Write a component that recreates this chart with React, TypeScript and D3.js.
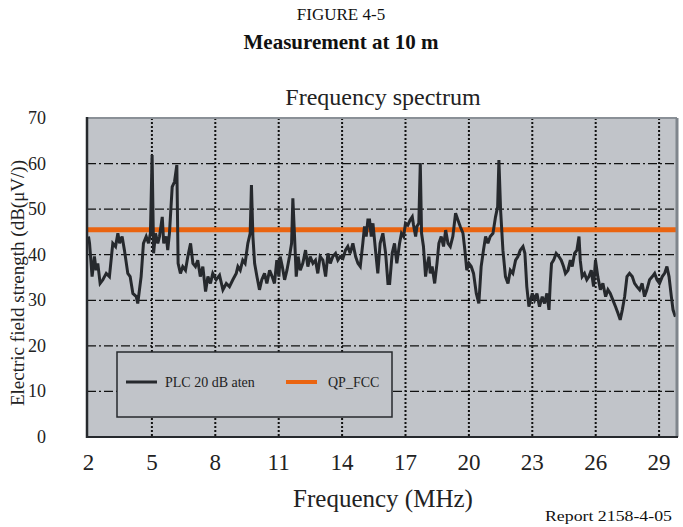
import React from "react";
import * as d3 from "d3";

const freqs: number[] = [
  2.0, 2.05, 2.17, 2.28, 2.36, 2.44, 2.55, 2.68, 2.84, 2.99, 3.15, 3.28, 3.39, 3.47, 3.59, 3.7, 3.86, 3.97, 4.1, 4.26,
  4.33, 4.49, 4.6, 4.73, 4.84, 4.93, 5.01, 5.08, 5.17, 5.28, 5.36, 5.49, 5.56, 5.68, 5.75, 5.83, 5.96, 6.07, 6.18, 6.24,
  6.35, 6.46, 6.59, 6.7, 6.83, 6.94, 7.06, 7.17, 7.29, 7.41, 7.54, 7.65, 7.77, 7.88, 8.04, 8.2, 8.36, 8.52, 8.67, 8.83,
  8.99, 9.07, 9.18, 9.3, 9.41, 9.54, 9.65, 9.71, 9.78, 9.86, 9.97, 10.09, 10.2, 10.33, 10.44, 10.57, 10.69, 10.8, 10.91, 11.01,
  11.07, 11.17, 11.28, 11.39, 11.51, 11.61, 11.67, 11.75, 11.83, 11.92, 12.02, 12.14, 12.27, 12.38, 12.49, 12.62, 12.74, 12.85, 12.96, 13.09,
  13.22, 13.33, 13.44, 13.56, 13.69, 13.8, 13.91, 14.04, 14.16, 14.27, 14.38, 14.51, 14.64, 14.75, 14.86, 14.98, 15.06, 15.14, 15.22, 15.3,
  15.38, 15.46, 15.58, 15.69, 15.8, 15.93, 16.06, 16.17, 16.25, 16.37, 16.48, 16.59, 16.72, 16.81, 16.91, 17.0, 17.11, 17.22, 17.32, 17.38,
  17.48, 17.54, 17.63, 17.7, 17.76, 17.85, 17.95, 18.01, 18.11, 18.17, 18.26, 18.38, 18.49, 18.58, 18.69, 18.8, 18.9, 19.01, 19.12, 19.24,
  19.37, 19.48, 19.59, 19.72, 19.81, 19.9, 20.0, 20.11, 20.22, 20.35, 20.47, 20.58, 20.69, 20.79, 20.9, 21.01, 21.14, 21.26, 21.36, 21.42,
  21.5, 21.61, 21.73, 21.85, 21.96, 22.08, 22.21, 22.32, 22.43, 22.56, 22.65, 22.74, 22.84, 23.0, 23.11, 23.22, 23.34, 23.47, 23.58, 23.69,
  23.79, 23.85, 23.91, 24.01, 24.13, 24.26, 24.37, 24.48, 24.57, 24.69, 24.8, 24.89, 25.0, 25.11, 25.21, 25.27, 25.36, 25.47, 25.58, 25.68,
  25.79, 25.9, 25.99, 26.1, 26.22, 26.34, 26.47, 26.58, 26.69, 26.81, 26.94, 27.05, 27.16, 27.26, 27.37, 27.48, 27.6, 27.73, 27.84, 27.95,
  28.08, 28.2, 28.31, 28.42, 28.55, 28.68, 28.79, 28.9, 29.02, 29.15, 29.26, 29.37, 29.47, 29.58, 29.66, 29.77,
];

const plcValues: number[] = [
  44.0, 42.5, 35.2, 39.6, 36.6, 38.1, 33.7, 34.5, 35.9, 35.2, 42.5, 41.8, 44.7, 42.5, 44.0, 41.0, 35.9, 35.2, 31.5, 30.8,
  29.3, 35.2, 42.5, 44.0, 42.5, 44.7, 61.9, 40.3, 44.7, 42.5, 44.0, 48.3, 42.5, 44.0, 41.0, 44.7, 54.9, 56.0, 59.7, 38.1,
  35.9, 37.4, 36.6, 39.6, 42.5, 38.1, 37.4, 38.8, 35.2, 37.4, 31.9, 35.2, 33.7, 35.9, 34.5, 35.5, 32.3, 33.7, 33.0, 34.5,
  35.9, 37.4, 36.6, 38.8, 38.1, 42.5, 44.7, 55.3, 44.0, 38.1, 35.2, 32.3, 34.5, 35.9, 33.7, 36.6, 35.2, 33.7, 38.8, 35.2,
  39.6, 37.4, 34.5, 36.6, 39.6, 42.5, 52.4, 44.0, 35.2, 39.6, 36.6, 38.1, 41.0, 37.4, 39.6, 38.1, 38.8, 35.9, 39.6, 38.8,
  35.2, 40.3, 38.1, 39.6, 40.3, 38.8, 39.6, 39.2, 41.0, 41.8, 40.3, 42.5, 39.6, 38.1, 37.4, 42.5, 46.2, 44.0, 47.6, 47.6,
  44.0, 46.9, 41.0, 35.9, 42.5, 44.7, 40.3, 33.7, 33.7, 40.3, 42.5, 38.1, 42.5, 44.7, 44.0, 46.9, 46.5, 47.6, 48.3, 46.5,
  44.0, 46.2, 46.9, 60.1, 44.7, 41.8, 35.2, 37.4, 39.6, 35.9, 37.4, 33.7, 38.1, 42.5, 44.0, 41.8, 45.4, 42.5, 41.8, 44.0,
  49.1, 47.6, 46.2, 44.7, 41.0, 36.6, 38.1, 37.4, 35.9, 31.5, 29.3, 37.4, 41.0, 44.0, 42.5, 44.0, 44.7, 48.3, 50.5, 60.8,
  49.8, 41.0, 35.2, 33.7, 36.6, 35.9, 38.8, 39.6, 41.0, 41.8, 40.3, 33.0, 28.6, 31.5, 30.1, 31.5, 28.6, 30.8, 29.3, 31.5,
  27.9, 33.7, 38.1, 38.8, 40.3, 39.6, 38.8, 37.4, 35.9, 36.6, 38.8, 37.4, 40.3, 41.0, 44.0, 38.8, 35.2, 35.9, 34.5, 35.2,
  36.6, 33.0, 38.8, 35.2, 32.3, 33.7, 30.8, 32.3, 31.5, 30.1, 28.6, 27.2, 25.7, 27.9, 30.8, 35.2, 35.9, 35.2, 33.7, 33.0,
  32.3, 33.7, 30.8, 32.3, 34.5, 35.2, 35.9, 34.5, 33.7, 35.2, 35.9, 37.4, 35.2, 30.8, 27.9, 26.4,
];

const qpFccLevel = 45.5;
const xTicks: number[] = [2, 5, 8, 11, 14, 17, 20, 23, 26, 29];
const xGridTicks: number[] = [5, 8, 11, 14, 17, 20, 23, 26, 29];
const yTicks: number[] = [0, 10, 20, 30, 40, 50, 60, 70];
const yGridTicks: number[] = [10, 20, 30, 40, 50, 60];
const seriesNames: string[] = ["PLC 20 dB aten", "QP_FCC"];

const SERIF = '"Liberation Serif", "Times New Roman", Times, serif';

export default function App() {
  const left = 87;
  const right = 677;
  const top = 118;
  const bottom = 437;

  const x = d3.scaleLinear().domain([2, 29.8]).range([88.5, 676]);
  const y = d3.scaleLinear().domain([0, 70]).range([bottom, top]);

  const data = freqs.map((f, i) => ({ f, v: plcValues[i] }));
  const line = d3
    .line<{ f: number; v: number }>()
    .x((d) => x(d.f))
    .y((d) => y(d.v));

  const bg = "#c1c4c9";
  const dark = "#26292d";
  const orange = "#ea6410";

  return (
    <svg
      width={683}
      height={527}
      style={{ position: "absolute", left: 0, top: 0, background: "#fff", fontFamily: SERIF }}
    >
      <text x={341} y={20} textAnchor="middle" fontSize={17} fill="#111">
        FIGURE 4-5
      </text>
      <text x={341} y={49} textAnchor="middle" fontSize={21} fontWeight="bold" fill="#111">
        Measurement at 10 m
      </text>
      <text x={383} y={105} textAnchor="middle" fontSize={24} fill="#222">
        Frequency spectrum
      </text>

      {/* plot background */}
      <rect x={left} y={top} width={right - left} height={bottom - top} fill={bg} />

      {/* horizontal grid */}
      {yGridTicks.map((t) => (
        <line
          key={"h" + t}
          x1={left}
          x2={right}
          y1={y(t)}
          y2={y(t)}
          stroke="#111"
          strokeWidth={1.3}
          strokeDasharray="9,3,2,3"
        />
      ))}
      {/* vertical grid */}
      {xGridTicks.map((t) => (
        <line
          key={"v" + t}
          x1={x(t)}
          x2={x(t)}
          y1={top}
          y2={bottom}
          stroke="#111"
          strokeWidth={2}
          strokeDasharray="2,2"
        />
      ))}

      {/* orange limit line */}
      <line
        x1={left}
        x2={right - 1}
        y1={y(qpFccLevel)}
        y2={y(qpFccLevel)}
        stroke={orange}
        strokeWidth={5}
      />

      {/* PLC line */}
      <path d={line(data) || ""} fill="none" stroke={dark} strokeWidth={3} strokeLinejoin="miter" strokeMiterlimit={3} />

      {/* borders */}
      <line x1={left} x2={right} y1={top} y2={top} stroke="#8a9097" strokeWidth={2} />
      <line x1={right} x2={right} y1={top} y2={bottom} stroke="#7f858c" strokeWidth={3} />
      <line x1={left} x2={left} y1={top - 1} y2={bottom + 1} stroke={dark} strokeWidth={2.5} />
      <line x1={left} x2={right + 1} y1={bottom} y2={bottom} stroke={dark} strokeWidth={2} />

      {/* legend */}
      <rect x={117} y={352} width={275} height={65} fill={bg} stroke={dark} strokeWidth={1.5} />
      <line x1={126} x2={157} y1={382} y2={382} stroke={dark} strokeWidth={3} />
      <text x={165} y={387} fontSize={14} fill="#222">
        {seriesNames[0]}
      </text>
      <line x1={286} x2={317} y1={382} y2={382} stroke={orange} strokeWidth={4} />
      <text x={328} y={387} fontSize={14} fill="#222">
        {seriesNames[1]}
      </text>

      {/* y tick labels */}
      {yTicks.map((t) => (
        <text key={"yl" + t} x={46} y={y(t) + 6} textAnchor="end" fontSize={18} fill="#222">
          {t}
        </text>
      ))}
      {/* x tick labels */}
      {xTicks.map((t) => (
        <text key={"xl" + t} x={x(t)} y={470} textAnchor="middle" fontSize={23} fill="#222">
          {t}
        </text>
      ))}

      <text
        transform={`translate(24, 283) rotate(-90)`}
        textAnchor="middle"
        fontSize={19}
        fill="#222"
      >
        Electric field strength (dB(μV/))
      </text>
      <text x={383} y={507} textAnchor="middle" fontSize={25} fill="#222">
        Frequency (MHz)
      </text>
      <text x={672} y={521} textAnchor="end" fontSize={15} fill="#111" textLength={127} lengthAdjust="spacingAndGlyphs">
        Report 2158-4-05
      </text>
    </svg>
  );
}
